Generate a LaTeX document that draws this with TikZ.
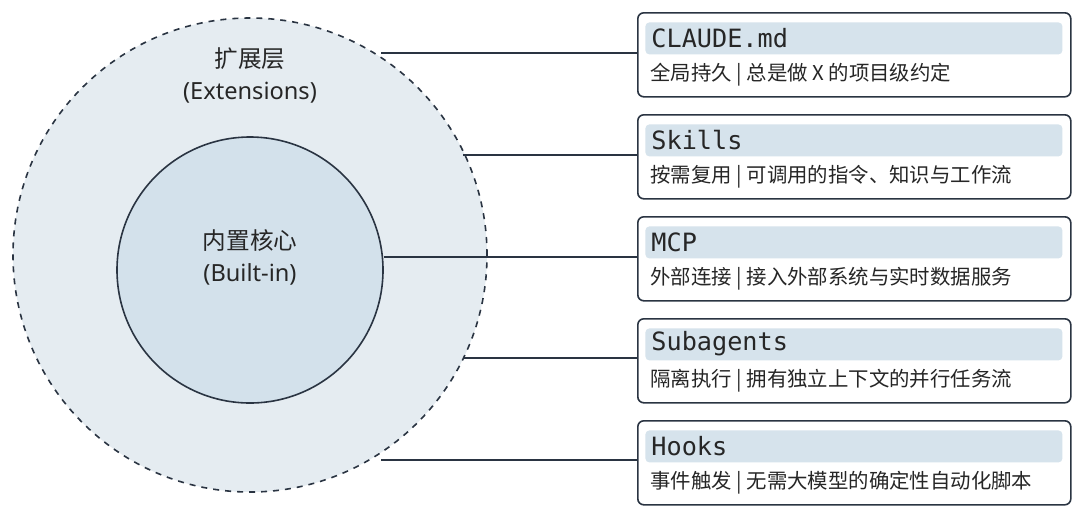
\documentclass[tikz,border=0pt]{standalone}
\usepackage{fontspec}
\setmainfont{Noto Sans}
\newfontfamily\cjk{Noto Sans CJK SC}
\newfontfamily\mono{DejaVu Sans Mono}
\definecolor{outerf}{HTML}{E5ECF1}
\definecolor{innerf}{HTML}{D3E1EB}
\definecolor{bandf}{HTML}{D6E3EC}
\definecolor{dkc}{HTML}{2A3442}
\begin{document}
\begin{tikzpicture}[x=0.5pt,y=-0.5pt,
  dk/.style={draw=dkc, line width=0.8pt},
  card/.style={dk, fill=white, rounded corners=3pt, minimum width=216.5pt, minimum height=42pt, anchor=north west, inner sep=0pt},
  band/.style={fill=bandf, rounded corners=2pt, minimum width=208.5pt, minimum height=16pt, anchor=north west, inner sep=0pt},
  ttl/.style={font=\mono\fontsize{12.6}{14}\selectfont, anchor=west, text=black!85, inner sep=0pt},
  sub/.style={font=\cjk\fontsize{10.2}{12}\selectfont, anchor=west, text=black!85, inner sep=0pt},
  conn/.style={dk, line width=0.7pt}]
\useasboundingbox (0,0) rectangle (1080,510);
\node[circle, dk, dashed, fill=outerf, minimum size=237pt, inner sep=0pt] (outer) at (250,255) {};
\node[circle, dk, fill=innerf, minimum size=133pt, inner sep=0pt] (inner) at (250,270) {};
\node[align=center, font=\fontsize{11.8}{16}\selectfont, text=black!85] (extl) at (250,75) {{\cjk 扩展层}\\(Extensions)};
\node[align=center, font=\fontsize{11.8}{16}\selectfont, text=black!85] (inl) at (250,257) {{\cjk 内置核心}\\(Built-in)};
\foreach \i/\y/\t/\s in {
 1/12/CLAUDE.md/全局持久 | 总是做 X 的项目级约定,
 2/114/Skills/按需复用 | 可调用的指令、知识与工作流,
 3/216/MCP/外部连接 | 接入外部系统与实时数据服务,
 4/318/Subagents/隔离执行 | 拥有独立上下文的并行任务流,
 5/420/Hooks/事件触发 | 无需大模型的确定性自动化脚本}{
 \node[card] (c\i) at (637,\y) {};
 \node[band] (b\i) at (645,\y+10) {};
 \node[ttl] (t\i) at (651,\y+26) {\t};
 \node[sub] (s\i) at (650,\y+63) {\s};
}
\coordinate (p1) at (381,53);
\coordinate (p2) at (463,155);
\coordinate (p4) at (463,358);
\coordinate (p5) at (381,460);
\draw[conn] (p1) -- (c1.west|-p1);
\draw[conn] (p2) -- (c2.west|-p2);
\draw[conn] (inner.east) ++(0,-13) coordinate (p3) -- (c3.west|-p3);
\draw[conn] (p4) -- (c4.west|-p4);
\draw[conn] (p5) -- (c5.west|-p5);
\end{tikzpicture}
\end{document}
